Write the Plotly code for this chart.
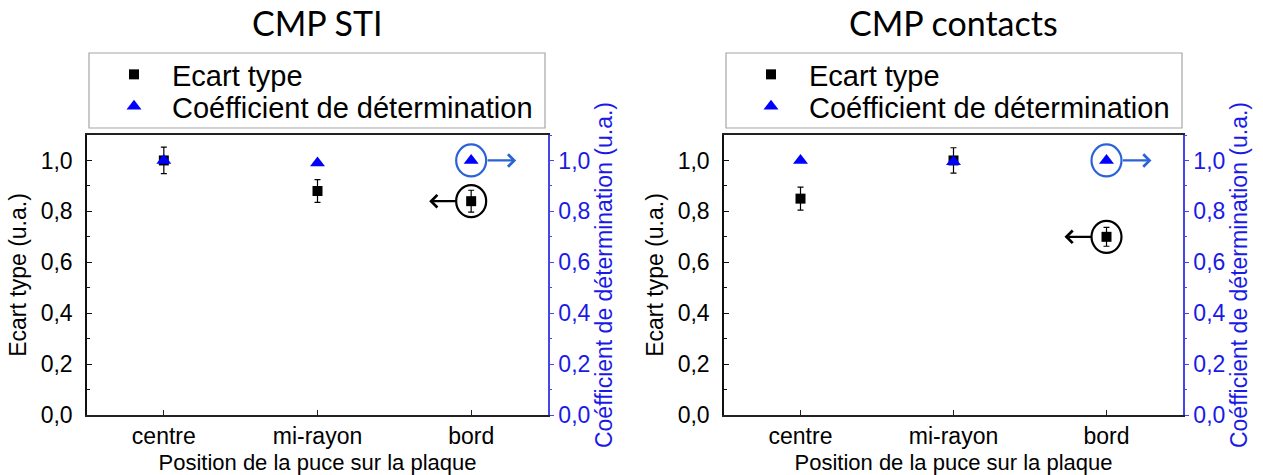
import plotly.graph_objects as go

# ---------------- data ----------------
categories = ["centre", "mi-rayon", "bord"]

sti_ecart = [1.00, 0.88, 0.84]
sti_ecart_err = [0.052, 0.045, 0.043]
sti_coef = [1.00, 0.99, 1.00]

contacts_ecart = [0.85, 1.00, 0.70]
contacts_ecart_err = [0.045, 0.05, 0.037]
contacts_coef = [1.00, 0.995, 1.00]

panel_titles = ["CMP STI", "CMP contacts"]
series_names = ["Ecart type", "Coéfficient de détermination"]
y_ticks = [0.0, 0.2, 0.4, 0.6, 0.8, 1.0]
x_title = "Position de la puce sur la plaque"
y_title_left = "Ecart type (u.a.)"
y_title_right = "Coéfficient de détermination (u.a.)"

# ---------------- layout helpers ----------------
W, H = 1263, 475
FONT = "Liberation Sans, Arial, sans-serif"
BLUE_TXT = "#1a1ae6"
BLUE_LINE = "#4646e8"
BLUE_MARK = "#0000ff"
BLUE_CIRC = "#2b63d6"


def px(x):
    return x / W


def py(y):
    return 1 - y / H


panels = [
    dict(ecart=sti_ecart, err=sti_ecart_err, coef=sti_coef,
         xl=87, xr=548, legends=("legend", "legend3"), lx=(89, 545)),
    dict(ecart=contacts_ecart, err=contacts_ecart_err, coef=contacts_coef,
         xl=724, xr=1183, legends=("legend2", "legend4"), lx=(726, 1182)),
]
y_top, y_bot = 135, 415
row_tops = (49, 81)   # legend tops so rows sit at ~75 and ~107 px

fig = go.Figure()
layout = dict(
    width=W, height=H,
    margin=dict(l=0, r=0, t=0, b=0, autoexpand=False),
    paper_bgcolor="white", plot_bgcolor="white",
    font=dict(family=FONT, size=23, color="black"),
    separators=", ",
    showlegend=True,
    shapes=[], annotations=[],
)

for i, p in enumerate(panels):
    xa = "x" if i == 0 else "x2"
    ya_l = "y" if i == 0 else "y3"
    ya_r = "y2" if i == 0 else "y4"
    xk = "xaxis" if i == 0 else "xaxis2"
    yk_l = "yaxis" if i == 0 else "yaxis3"
    yk_r = "yaxis2" if i == 0 else "yaxis4"

    fig.add_trace(go.Scatter(
        x=categories, y=p["ecart"], mode="markers", name=series_names[0],
        marker=dict(symbol="square", size=10, color="black"),
        error_y=dict(type="data", array=p["err"], color="black",
                     thickness=1.2, width=3),
        xaxis=xa, yaxis=ya_l, legend=p["legends"][0], showlegend=True))
    fig.add_trace(go.Scatter(
        x=categories, y=p["coef"], mode="markers", name=series_names[1],
        marker=dict(symbol="triangle-up", size=13, color=BLUE_MARK),
        xaxis=xa, yaxis=ya_r, legend=p["legends"][1], showlegend=True))

    layout[xk] = dict(
        domain=[px(p["xl"]), px(p["xr"])], anchor=ya_l, automargin=False,
        type="category", range=[-0.5, 2.5],
        showline=True, mirror=True, linecolor="#222", linewidth=1.5,
        ticks="inside", ticklen=5, tickcolor="#222",
        showgrid=False, zeroline=False,
        tickfont=dict(size=23),
        title=dict(text=x_title, font=dict(size=22), standoff=6),
    )
    layout[yk_l] = dict(
        domain=[py(y_bot), py(y_top)], anchor=xa, automargin=False,
        range=[0, 1.1], tickvals=y_ticks, tickformat=".1f",
        showline=True, linecolor="#111", linewidth=1.5,
        ticks="inside", ticklen=5, tickcolor="#111",
        minor=dict(ticks="inside", ticklen=3, dtick=0.1, tickcolor="#111", showgrid=False),
        ticklabelstandoff=8,
        showgrid=False, zeroline=False,
        tickfont=dict(size=23),
        title=dict(text=y_title_left, font=dict(size=23), standoff=8),
    )
    layout[yk_r] = dict(
        overlaying=ya_l, side="right", anchor=xa, automargin=False,
        range=[0, 1.1], tickvals=y_ticks, tickformat=".1f",
        showline=True, linecolor=BLUE_LINE, linewidth=1.5,
        ticks="outside", ticklen=4, tickcolor=BLUE_LINE,
        minor=dict(ticks="outside", ticklen=2, dtick=0.1, tickcolor=BLUE_LINE, showgrid=False),
        showgrid=False, zeroline=False,
        tickfont=dict(size=23, color=BLUE_TXT),
        title=dict(text=y_title_right, font=dict(size=23, color=BLUE_TXT), standoff=6),
    )

    # legends (one real plotly legend per row) + common frame
    for leg, top in zip(p["legends"], row_tops):
        layout[leg] = dict(
            x=px(p["lx"][0] + 7), y=py(top), xanchor="left", yanchor="top",
            bgcolor="rgba(0,0,0,0)", borderwidth=0,
            font=dict(family=FONT, size=29, color="black"),
            itemwidth=66, tracegroupgap=0, visible=True,
        )
    layout["shapes"].append(dict(
        type="rect", xref="paper", yref="paper",
        x0=px(p["lx"][0]), x1=px(p["lx"][1]), y0=py(128), y1=py(53),
        line=dict(color="#a6a6a6", width=1.2), fillcolor="rgba(0,0,0,0)", layer="below"))

    # panel title
    layout["annotations"].append(dict(
        text=panel_titles[i], xref="paper", yref="paper",
        x=px((p["xl"] + p["xr"]) / 2), y=py(23), xanchor="center", yanchor="middle",
        showarrow=False, font=dict(family="Lato, Open Sans, sans-serif", size=34, color="black")))

    # circles around the "bord" points + arrows toward their axes
    last = categories[-1]
    layout["shapes"].append(dict(
        type="circle", xref=xa, yref=ya_l, xsizemode="pixel", ysizemode="pixel",
        xanchor=last, yanchor=p["ecart"][-1], x0=-15, x1=15, y0=-16, y1=16,
        line=dict(color="black", width=2.2)))
    layout["shapes"].append(dict(
        type="circle", xref=xa, yref=ya_r, xsizemode="pixel", ysizemode="pixel",
        xanchor=last, yanchor=p["coef"][-1], x0=-15, x1=15, y0=-16, y1=16,
        line=dict(color=BLUE_CIRC, width=2.2)))
    layout["annotations"].append(dict(
        x=last, y=p["ecart"][-1], xref=xa, yref=ya_l, text="",
        showarrow=True, arrowhead=4, arrowsize=1.1, arrowwidth=2.2, arrowcolor="black",
        ax=28, ay=0, xshift=-42))
    layout["annotations"].append(dict(
        x=last, y=p["coef"][-1], xref=xa, yref=ya_r, text="",
        showarrow=True, arrowhead=4, arrowsize=1.1, arrowwidth=2.2, arrowcolor=BLUE_CIRC,
        ax=-30, ay=0, xshift=45))

fig.update_layout(**layout)
fig.write_html(
    "out.html",
    config={"displayModeBar": False},
    post_script="document.body.style.margin='0';document.body.style.overflow='hidden';",
)
